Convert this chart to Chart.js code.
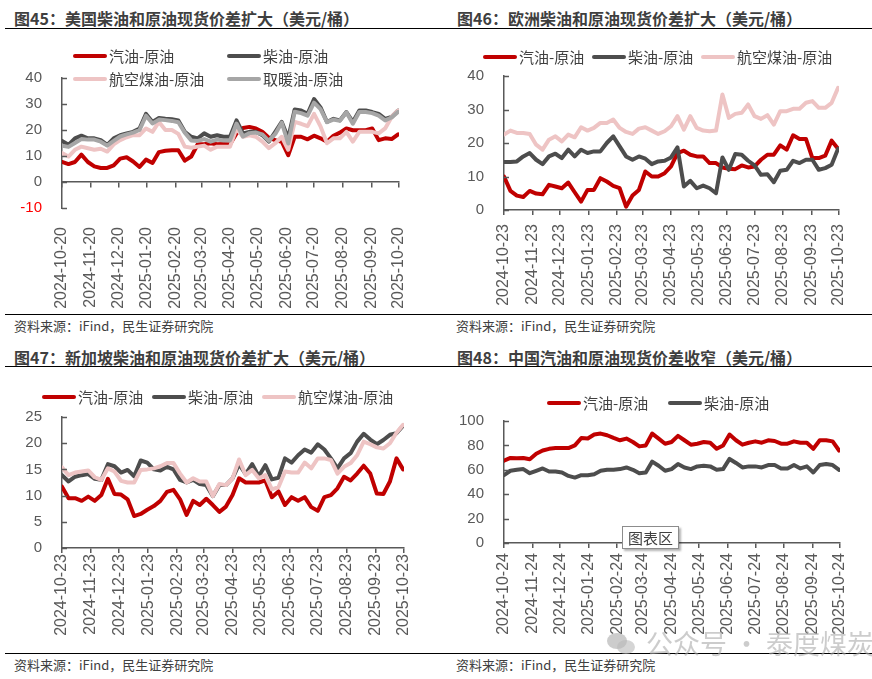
<!DOCTYPE html>
<html>
<head>
<meta charset="utf-8">
<script src="https://cdn.jsdelivr.net/npm/chart.js@4.4.1/dist/chart.umd.min.js"></script>
<style>
  body { margin: 0; width: 872px; height: 679px; background: #fff; position: relative; overflow: hidden;
         font-family: 'Noto Sans CJK SC', sans-serif; color: #404040; }
  .title { position: absolute; font-size: 16px; font-weight: bold; line-height: 20px; white-space: nowrap; color: #3f3f3f; }
  .rule { position: absolute; height: 0; border-top: 1.5px solid #000; }
  .src { position: absolute; font-size: 13px; line-height: 16px; white-space: nowrap; }
  .leg { position: absolute; font-size: 15px; line-height: 18px; white-space: nowrap; display: flex; align-items: center; color: #404040; }
  .sw { display: inline-block; width: 34px; height: 4px; border-radius: 2px; margin-right: 2px; }
  canvas { position: absolute; }
  .wm { position: absolute; left: 646px; top: 626px; font-size: 27px; line-height: 34px; color: rgba(170,170,170,0.6); white-space: nowrap; }
  .tipbox { position: absolute; left: 622px; top: 526px; width: 55px; height: 21px; border: 1px solid #8c8c8c; background: #fff;
            font-size: 15px; line-height: 21px; text-align: center; box-shadow: 2px 2px 2px rgba(0,0,0,0.3); color: #404040; }
</style>
</head>
<body>
<div class="title" style="left:14px;top:8px">图45：美国柴油和原油现货价差扩大（美元/桶）</div>
<div class="title" style="left:457px;top:8px">图46：欧洲柴油和原油现货价差扩大（美元/桶）</div>
<div class="rule" style="left:5px;top:28px;width:867px"></div>
<div class="title" style="left:14px;top:347px">图47：新加坡柴油和原油现货价差扩大（美元/桶）</div>
<div class="title" style="left:457px;top:347px">图48：中国汽油和原油现货价差收窄（美元/桶）</div>
<div class="rule" style="left:5px;top:366px;width:867px"></div>

<canvas id="c1" width="436" height="250" style="left:0;top:62px"></canvas>
<canvas id="c2" width="436" height="250" style="left:436px;top:62px"></canvas>
<canvas id="c3" width="436" height="250" style="left:0;top:403px"></canvas>
<canvas id="c4" width="436" height="250" style="left:436px;top:403px"></canvas>

<div class="rule" style="left:5px;top:314px;width:867px"></div>
<div class="src" style="left:14px;top:318px">资料来源：iFind，民生证券研究院</div>
<div class="src" style="left:456px;top:318px">资料来源：iFind，民生证券研究院</div>
<div class="rule" style="left:5px;top:653px;width:867px"></div>
<div class="src" style="left:14px;top:657px">资料来源：iFind，民生证券研究院</div>
<div class="src" style="left:456px;top:657px">资料来源：iFind，民生证券研究院</div>

<div class="tipbox">图表区</div>
<div style="position:absolute;left:607px;top:633px;width:20px;height:16px;border-radius:50%;background:rgba(170,170,170,0.6)"></div>
<div style="position:absolute;left:617px;top:640px;width:18px;height:14px;border-radius:50%;background:rgba(185,185,185,0.6)"></div>
<div class="wm">公众号 · 泰度煤炭</div>

<script>
// weekly spreads, USD/bbl
const usTicks = ['2024-10-20','2024-11-20','2024-12-20','2025-01-20','2025-02-20','2025-03-20','2025-04-20',
                 '2025-05-20','2025-06-20','2025-07-20','2025-08-20','2025-09-20','2025-10-20'];
const usGasoline = [7.7,6.9,7.7,10.5,7.7,6.0,5.4,5.4,6.4,9.0, 9.5,7.9,5.8,8.6,7.3,11.5,12.0,12.2,12.2,8.2,
                    9.8,14.5,14.5,14.9,14.5,14.6,14.5,18.7,20.8,21.2, 20.6,19.3,17.0,16.1,15.5,10.3,17.4,17.4,16.4,17.8,
                    16.8,15.5,17.8,19.0,20.6,19.9,19.9,19.9,20.6,16.1, 16.8,16.5,18.3];
const usDiesel = [15.8,14.3,16.8,17.8,16.8,16.8,16.1,14.3,16.8,18.0, 18.7,19.3,20.6,26.2,23.1,24.6,24.3,24.1,23.7,19.3,
                  17.4,16.8,18.7,17.4,18.0,17.4,17.4,23.7,18.7,19.3, 19.3,18.0,15.5,19.3,23.1,16.8,27.9,27.5,26.2,31.9,
                  28.7,23.1,24.3,23.7,26.9,23.1,27.5,27.5,26.9,26.2, 24.3,25.0,27.5];
const usJet = [11.1,9.8,12.4,13.6,13.0,12.4,12.8,11.7,14.5,16.1, 17.2,18.0,18.0,20.6,19.3,23.1,20.0,20.0,18.5,13.6,
               13.2,13.6,14.0,12.4,13.6,13.6,13.6,20.6,17.4,18.0, 17.4,15.5,13.0,14.9,17.4,12.4,23.1,22.4,21.5,26.2,
               21.4,14.9,16.8,16.8,19.3,15.5,19.3,19.3,19.3,18.7, 20.6,25.0,27.5];
const usHeating = [14.0,13.5,15.0,16.5,16.3,16.3,15.5,14.0,15.8,17.5, 18.3,19.0,20.0,25.5,22.5,24.0,23.8,23.5,23.0,19.0,
                   16.0,15.8,16.5,15.5,16.3,16.0,16.0,22.5,17.5,18.8, 19.0,18.3,15.8,18.5,22.8,14.8,27.0,26.5,25.5,30.5,
                   28.0,23.0,24.0,23.5,26.8,22.4,26.9,26.9,26.5,25.5, 23.7,24.8,27.0];

const euTicks = ['2024-10-23','2024-11-23','2024-12-23','2025-01-23','2025-02-23','2025-03-23','2025-04-23',
                 '2025-05-23','2025-06-23','2025-07-23','2025-08-23','2025-09-23','2025-10-23'];
const euGasoline = [10.0,5.7,4.3,3.9,5.7,4.9,4.7,7.5,7.0,6.5, 8.2,5.3,2.5,6.0,6.0,9.5,8.5,7.2,6.5,1.0,
                    4.3,6.0,11.5,10.0,10.0,11.0,13.0,17.0,17.7,16.5, 16.0,16.0,14.0,14.0,12.7,12.3,12.2,13.3,12.7,13.0,
                    15.0,16.5,16.5,19.3,18.0,22.3,21.2,21.2,15.5,15.5, 16.2,20.7,18.3];
const euDiesel = [14.3,14.3,14.5,16.0,17.0,15.0,13.7,16.0,16.8,15.5, 18.0,16.0,18.0,17.0,17.5,17.5,20.0,22.0,19.0,16.0,
                  15.0,16.0,15.3,13.7,14.5,14.7,15.7,18.7,7.0,8.7, 6.5,7.3,6.5,5.0,15.7,12.0,16.7,16.5,14.7,13.3,
                  10.5,10.7,8.3,11.7,12.0,14.7,14.0,15.0,15.0,12.0, 12.5,13.5,18.3];
const euJet = [22.5,23.7,23.0,23.0,22.7,19.5,18.0,21.0,22.0,20.5, 22.5,21.7,24.7,23.7,24.5,26.0,26.0,27.0,24.5,23.3,
               22.7,24.3,24.7,23.7,22.7,23.5,25.0,28.0,24.0,28.0, 24.5,23.7,23.5,23.7,34.5,27.5,28.7,29.0,31.5,28.0,
               27.2,28.3,25.5,29.5,29.5,30.2,30.2,32.0,32.5,30.5, 30.5,32.0,36.5];

const sgTicks = euTicks;
const sgGasoline = [11.7,9.5,9.5,9.0,9.8,9.0,10.1,13.2,10.3,10.2, 9.3,6.1,6.5,7.3,8.0,9.0,10.7,11.1,9.3,6.3,
                    9.0,8.2,9.4,8.2,6.9,7.9,10.1,13.3,12.5,12.5, 12.5,12.9,9.7,10.8,8.2,9.7,9.0,9.7,7.8,7.1,
                    9.7,10.1,11.4,13.6,12.9,14.2,15.7,14.2,10.4,10.3, 12.7,17.1,15.0];
const sgDiesel = [13.9,12.7,13.6,13.9,14.1,13.2,13.0,16.0,15.6,14.4, 14.9,13.7,16.7,16.3,15.0,14.8,15.5,15.0,13.0,12.5,
                  13.0,12.2,12.0,9.9,12.0,12.0,13.3,16.0,14.1,16.0, 13.7,15.8,13.1,13.4,17.1,16.3,17.7,18.8,18.2,19.8,
                  18.8,17.1,15.2,17.1,18.1,20.3,21.8,20.7,19.8,20.6, 21.6,21.9,23.3];
const sgJet = [15.4,13.9,14.4,14.6,14.8,13.5,13.0,15.2,14.6,12.8, 12.5,12.5,14.9,15.0,15.2,15.6,16.2,16.2,14.2,12.5,
               13.3,12.7,12.7,9.9,12.2,12.0,13.3,16.9,13.9,14.9, 13.3,13.9,11.2,11.6,14.6,14.4,14.4,16.3,15.2,17.1,
               17.1,16.8,14.2,15.5,16.2,17.7,20.3,19.8,19.2,19.0, 20.0,22.0,23.5];

const cnTicks = ['2024-10-24','2024-11-24','2024-12-24','2025-01-24','2025-02-24','2025-03-24','2025-04-24',
                 '2025-05-24','2025-06-24','2025-07-24','2025-08-24','2025-09-24','2025-10-24'];
const cnGasoline = [67.5,69.7,69.4,69.7,68.6,73.1,75.8,77.2,77.8,77.8, 77.8,80.0,86.1,85.6,88.9,89.7,88.3,86.1,84.2,85.6,
                    82.8,79.2,80.0,89.7,85.6,81.4,82.8,87.8,84.2,80.6, 81.4,82.8,82.2,77.2,80.0,88.9,84.2,80.6,82.2,83.3,
                    82.2,84.2,83.6,81.4,81.4,83.3,82.2,82.2,77.2,84.2, 84.2,83.3,75.8];
const cnDiesel = [55.6,59.2,60.0,60.6,57.2,59.2,61.1,58.6,58.6,57.8, 55.0,53.6,55.6,55.6,56.4,59.2,60.0,60.0,60.6,61.9,
                  60.0,57.2,57.8,66.7,63.3,59.2,60.6,64.7,61.9,60.6, 62.8,63.3,62.8,60.0,60.6,68.9,65.6,61.9,62.8,62.8,
                  61.9,63.9,63.9,61.1,61.1,63.9,61.1,62.8,57.8,63.9, 64.7,63.9,60.0];

const RED = '#C00000', DARK = '#4D4D4D', PINK = '#EEC4C4', GRAY = '#A6A6A6';
const axisColor = '#595959';
const tickFont = { family: "'Liberation Sans', 'Noto Sans CJK SC', sans-serif", size: 15 };
const dateFont = { family: "'Liberation Sans', 'Noto Sans CJK SC', sans-serif", size: 16 };

const dayNum = s => Date.parse(s + 'T00:00:00Z') / 864e5;
// weekly observation dates
const weekly = (start, n) => Array.from({ length: n }, (_, i) => dayNum(start) + 7 * i);

const innerTicks = {
  id: 'innerTicks',
  afterDraw(chart) {
    const y = chart.scales.y, ctx = chart.ctx;
    ctx.save();
    ctx.strokeStyle = axisColor;
    ctx.lineWidth = 1.5;
    y.ticks.forEach(t => {
      const py = Math.round(y.getPixelForValue(t.value)) + 0.5;
      ctx.beginPath(); ctx.moveTo(y.right, py); ctx.lineTo(y.right + 5, py); ctx.stroke();
    });
    ctx.restore();
  }
};

function makeChart(id, c) {
  const tickVals = c.ticks.map(dayNum);
  const setTicks = s => { s.ticks = tickVals.map(v => ({ value: v })); };
  const dates = weekly(c.ticks[0], c.series[0].data.length);
  const labelTicks = {
    color: axisColor, font: dateFont, minRotation: 90, maxRotation: 90, autoSkip: false,
    padding: c.labelPad, callback: (v, i) => c.ticks[i]
  };
  const scales = {
    x: {
      type: 'linear', min: tickVals[0], max: tickVals[tickVals.length - 1],
      afterBuildTicks: setTicks,
      grid: { drawOnChartArea: false, color: axisColor, lineWidth: 1.5, tickLength: 5 },
      border: { color: axisColor, width: 1.5 },
      ticks: labelTicks,
      afterFit: s => { s.height = c.xh; }
    },
    y: {
      min: c.yMin, max: c.yMax,
      afterFit: s => { s.width = c.yw; },
      ticks: { stepSize: c.yStep, padding: 0, font: tickFont,
               color: ctx => ctx.tick.value < 0 ? '#FF0000' : axisColor },
      // invisible outer tick keeps the labels clear of the axis
      grid: { drawOnChartArea: false, drawTicks: true, tickLength: 20, tickColor: 'rgba(0,0,0,0)' },
      border: { color: axisColor, width: 1.5 }
    }
  };
  if (c.zeroAxis) {
    // axis line sits on zero, date labels stay at the bottom
    scales.x.position = { y: 0 };
    scales.x.ticks = { display: false };
    scales.x.afterFit = s => { s.height = 0; };
    scales.x2 = {
      type: 'linear', position: 'bottom', min: tickVals[0], max: tickVals[tickVals.length - 1],
      afterBuildTicks: setTicks,
      grid: { display: false }, border: { display: false },
      ticks: labelTicks,
      afterFit: s => { s.height = c.xh; }
    };
  }
  const n = c.series.length;
  new Chart(document.getElementById(id), {
    type: 'line',
    data: {
      datasets: c.series.map((s, k) => ({
        label: s.label,
        data: s.data.map((v, i) => ({ x: dates[i], y: v })),
        borderColor: s.color, backgroundColor: s.color,
        borderWidth: 4, pointRadius: 0, tension: 0,
        borderJoinStyle: 'round', borderCapStyle: 'round',
        xAxisID: 'x', order: n - k
      }))
    },
    options: {
      responsive: false, animation: false,
      layout: { padding: { left: 0, right: c.pr, top: c.pt, bottom: 0 } },
      plugins: { legend: { display: false }, tooltip: { enabled: false } },
      scales
    },
    plugins: [innerTicks]
  });
  // legend as page text
  c.legend.forEach((p, k) => {
    const d = document.createElement('div');
    d.className = 'leg';
    d.style.left = p[0] + 'px';
    d.style.top = (p[1] - 9) + 'px';
    d.innerHTML = '<i class="sw" style="background:' + c.series[k].color + '"></i>' + c.series[k].label;
    document.body.appendChild(d);
  });
}

makeChart('c1', {
  ticks: usTicks, yMin: -10, yMax: 40, yStep: 10, zeroAxis: true,
  yw: 62, pr: 37, pt: 16, xh: 104, labelPad: 11,
  series: [
    { label: '汽油-原油', data: usGasoline, color: RED },
    { label: '柴油-原油', data: usDiesel, color: DARK },
    { label: '航空煤油-原油', data: usJet, color: PINK },
    { label: '取暖油-原油', data: usHeating, color: GRAY }
  ],
  legend: [[73, 56], [227, 56], [73, 79], [227, 79]]
});

makeChart('c2', {
  ticks: euTicks, yMin: 0, yMax: 40, yStep: 10,
  yw: 68, pr: 33, pt: 14, xh: 102, labelPad: 9,
  series: [
    { label: '汽油-原油', data: euGasoline, color: RED },
    { label: '柴油-原油', data: euDiesel, color: DARK },
    { label: '航空煤油-原油', data: euJet, color: PINK }
  ],
  legend: [[483, 57], [592, 57], [701, 57]]
});

makeChart('c3', {
  ticks: sgTicks, yMin: 0, yMax: 25, yStep: 5,
  yw: 62, pr: 32, pt: 14, xh: 105, labelPad: 1,
  series: [
    { label: '汽油-原油', data: sgGasoline, color: RED },
    { label: '柴油-原油', data: sgDiesel, color: DARK },
    { label: '航空煤油-原油', data: sgJet, color: PINK }
  ],
  legend: [[42, 397], [152, 397], [262, 397]]
});

makeChart('c4', {
  ticks: cnTicks, yMin: 0, yMax: 100, yStep: 20,
  yw: 68, pr: 32, pt: 18, xh: 110, labelPad: 5,
  series: [
    { label: '汽油-原油', data: cnGasoline, color: RED },
    { label: '柴油-原油', data: cnDiesel, color: DARK }
  ],
  legend: [[547, 403], [668, 403]]
});
</script>
</body>
</html>
